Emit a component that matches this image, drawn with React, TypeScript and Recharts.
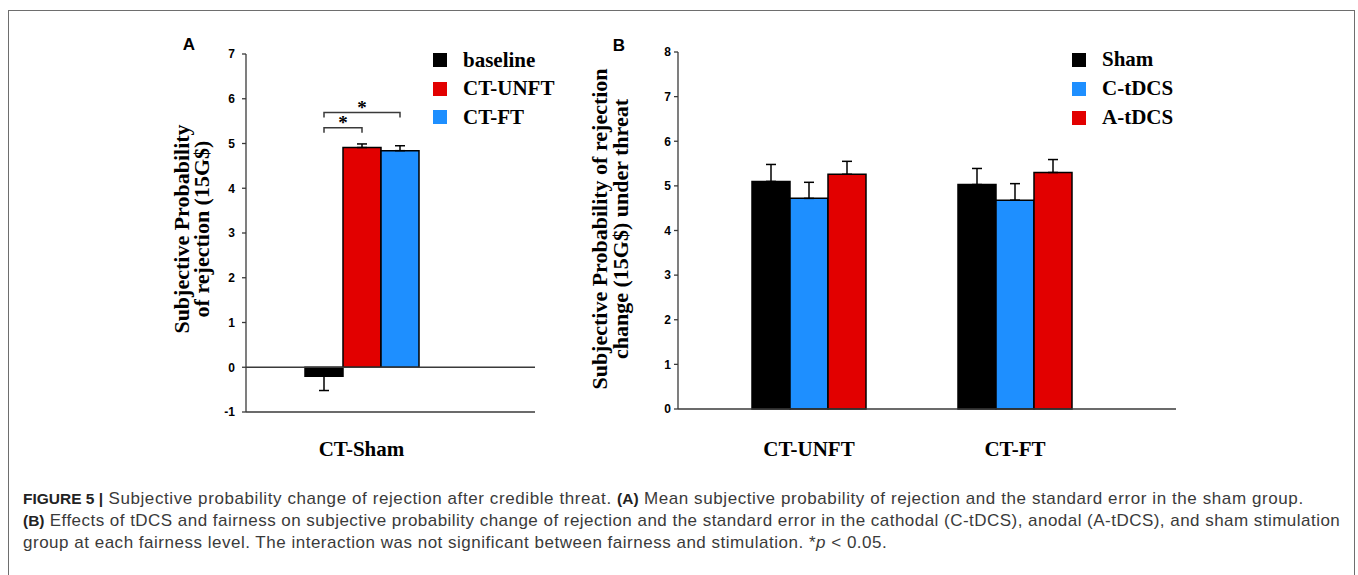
import React from 'react';
import { BarChart, Bar, XAxis, YAxis, ErrorBar, ReferenceLine, LabelList } from 'recharts';

// ---------- Panel A data ----------
const categoriesA = ['CT-Sham'];
const seriesA = ['baseline', 'CT-UNFT', 'CT-FT'];
const colorsA = ['#000000', '#E20000', '#1E8FFF'];
const valuesA = [-0.2, 4.91, 4.84];
const errLowA = [0.32, 0, 0];
const errHighA = [0, 0.08, 0.11];
const ticksA = [-1, 0, 1, 2, 3, 4, 5, 6, 7];
const sigPairsA = [[0, 1], [0, 2]];
const sigLevelsA = [5.35, 5.69];

// ---------- Panel B data ----------
const categoriesB = ['CT-UNFT', 'CT-FT'];
const seriesB = ['Sham', 'C-tDCS', 'A-tDCS'];
const colorsB = ['#000000', '#1E8FFF', '#E20000'];
const valuesB = [
  [5.1, 5.03],
  [4.72, 4.68],
  [5.26, 5.3],
];
const errB = [
  [0.38, 0.36],
  [0.36, 0.37],
  [0.29, 0.29],
];
const ticksB = [0, 1, 2, 3, 4, 5, 6, 7, 8];

const dataA = categoriesA.map((name) => {
  const row: any = { name };
  seriesA.forEach((_, i) => {
    row['s' + i] = valuesA[i];
    row['e' + i] = [errLowA[i], errHighA[i]];
  });
  return row;
});

const dataB = categoriesB.map((name, c) => {
  const row: any = { name };
  seriesB.forEach((_, i) => {
    row['s' + i] = valuesB[i][c];
    row['e' + i] = [0, errB[i][c]];
  });
  return row;
});

const SERIF = '"Liberation Serif", "Times New Roman", serif';
const SANS = '"Liberation Sans", Arial, sans-serif';
const AXIS = '#3a3a3a';
const FRAME = '#6e6e6e';

function SigBrackets(props: any) {
  const vb = props.viewBox || {};
  const x = Number(props.x ?? vb.x);
  const y = Number(props.y ?? vb.y);
  const width = Number(props.width ?? vb.width);
  const height = Number(props.height ?? vb.height);
  if (!isFinite(x) || !isFinite(height) || height === 0) return null;
  const ppu = height / valuesA[1];
  const zeroY = y + height;
  const yFor = (v: number) => zeroY - v * ppu;
  const centers = [x - width / 2, x + width / 2, x + width * 1.5];
  return (
    <g>
      {sigPairsA.map(([a, b], i) => {
        const yy = yFor(sigLevelsA[i]);
        const x1 = centers[a];
        const x2 = centers[b];
        return (
          <g key={i}>
            <path
              d={`M${x1},${yy + 5}V${yy}H${x2}V${yy + 5}`}
              fill="none"
              stroke={AXIS}
              strokeWidth={1.5}
            />
            <text
              x={(x1 + x2) / 2}
              y={yy + 1}
              textAnchor="middle"
              fontFamily={SERIF}
              fontWeight="bold"
              fontSize={19}
              fill="#000"
            >
              *
            </text>
          </g>
        );
      })}
    </g>
  );
}

function LegendBox({ names, colors, left, top, gap }: any) {
  return (
    <div style={{ position: 'absolute', left, top }}>
      {names.map((n: string, i: number) => (
        <div
          key={n}
          style={{ display: 'flex', alignItems: 'center', height: gap }}
        >
          <div style={{ width: 14, height: 14, background: colors[i], marginRight: 16 }} />
          <span
            style={{
              fontFamily: SERIF,
              fontWeight: 'bold',
              fontSize: 21,
              color: '#000',
              lineHeight: 1,
              whiteSpace: 'nowrap',
            }}
          >
            {n}
          </span>
        </div>
      ))}
    </div>
  );
}

const yTick = { fill: '#000', fontSize: 12, fontWeight: 'bold', fontFamily: SANS } as any;
const xTick = { fill: '#000', fontSize: 21, fontWeight: 'bold', fontFamily: SERIF } as any;
const boldCap = { fontWeight: 'bold', fontSize: 15.5, letterSpacing: 0, color: '#222' } as any;

export default function App() {
  return (
    <div
      style={{
        position: 'absolute',
        left: 0,
        top: 0,
        width: 1358,
        height: 575,
        overflow: 'hidden',
        background: '#fff',
      }}
    >
      {/* frame */}
      <div
        style={{
          position: 'absolute',
          left: 8,
          top: 10,
          width: 1347,
          height: 620,
          boxSizing: 'border-box',
          border: `1px solid ${FRAME}`,
        }}
      />

      {/* Panel A chart */}
      <div style={{ position: 'absolute', left: 0, top: 0 }}>
        <BarChart
          width={570}
          height={480}
          data={dataA}
          margin={{ top: 54, right: 35, bottom: 38, left: 0 }}
          barGap={0}
          barSize={38}
        >
          <XAxis
            dataKey="name"
            height={30}
            padding={{ left: 0, right: 58 }}
            axisLine={{ stroke: AXIS, strokeWidth: 1.3 }}
            tickLine={false}
            tickSize={0}
            tickMargin={29}
            tick={xTick}
          />
          <YAxis
            type="number"
            domain={[-1, 7]}
            ticks={ticksA}
            interval={0}
            width={246}
            axisLine={{ stroke: AXIS, strokeWidth: 1.3 }}
            tickLine={{ stroke: AXIS, strokeWidth: 1.3 }}
            tickSize={4}
            tickMargin={7}
            tick={yTick}
          />
          <ReferenceLine y={0} stroke={AXIS} strokeWidth={1.3} />
          {seriesA.map((s, i) => (
            <Bar
              key={s}
              dataKey={'s' + i}
              name={s}
              fill={colorsA[i]}
              stroke="#000"
              strokeWidth={1.5}
              isAnimationActive={false}
            >
              <ErrorBar dataKey={'e' + i} width={5} stroke="#000" strokeWidth={1.5} direction="y" />
              {i === 1 ? <LabelList dataKey={'s' + i} content={SigBrackets} /> : null}
            </Bar>
          ))}
        </BarChart>
      </div>

      {/* Panel B chart */}
      <div style={{ position: 'absolute', left: 560, top: 0 }}>
        <BarChart
          width={798}
          height={480}
          data={dataB}
          margin={{ top: 52, right: 182, bottom: 41, left: 0 }}
          barGap={0}
          barSize={38}
        >
          <XAxis
            dataKey="name"
            height={30}
            padding={{ left: 28, right: 58 }}
            axisLine={{ stroke: AXIS, strokeWidth: 1.3 }}
            tickLine={false}
            tickSize={0}
            tickMargin={32}
            tick={xTick}
          />
          <YAxis
            type="number"
            domain={[0, 8]}
            ticks={ticksB}
            interval={0}
            width={118}
            axisLine={{ stroke: AXIS, strokeWidth: 1.3 }}
            tickLine={{ stroke: AXIS, strokeWidth: 1.3 }}
            tickSize={4}
            tickMargin={3}
            tick={yTick}
          />
          {seriesB.map((s, i) => (
            <Bar
              key={s}
              dataKey={'s' + i}
              name={s}
              fill={colorsB[i]}
              stroke="#000"
              strokeWidth={1.5}
              isAnimationActive={false}
            >
              <ErrorBar dataKey={'e' + i} width={5} stroke="#000" strokeWidth={1.5} direction="y" />
            </Bar>
          ))}
        </BarChart>
      </div>

      {/* Text overlay: panel letters and y-axis titles */}
      <svg
        width={1358}
        height={480}
        style={{ position: 'absolute', left: 0, top: 0, pointerEvents: 'none' }}
      >
        <text x={189} y={50} textAnchor="middle" fontFamily={SANS} fontWeight="bold" fontSize={17} fill="#000">
          A
        </text>
        <text x={619} y={51} textAnchor="middle" fontFamily={SANS} fontWeight="bold" fontSize={17} fill="#000">
          B
        </text>
        <g fontFamily={SERIF} fontWeight="bold" fontSize={22} fill="#000" textAnchor="middle">
          <text transform="translate(188.5,229) rotate(-90)">Subjective Probability</text>
          <text transform="translate(208.5,229) rotate(-90)">of rejection (15G$)</text>
          <text transform="translate(607,229) rotate(-90)">Subjective Probability of rejection</text>
          <text transform="translate(628,229) rotate(-90)">change (15G$) under threat</text>
        </g>
      </svg>

      <LegendBox names={seriesA} colors={colorsA} left={433} top={46} gap={28.5} />
      <LegendBox names={seriesB} colors={colorsB} left={1072} top={45} gap={29} />

      {/* caption */}
      <div
        style={{
          position: 'absolute',
          left: 23,
          top: 488,
          fontFamily: SANS,
          fontSize: 17,
          lineHeight: '22px',
          color: '#3a3a3a',
          whiteSpace: 'nowrap',
        }}
      >
        <div style={{ letterSpacing: '0.59px' }}>
          <span style={boldCap}>FIGURE 5 |</span> Subjective probability change of rejection after credible threat.{' '}
          <span style={boldCap}>(A)</span> Mean subjective probability of rejection and the standard error in the sham
          group.
        </div>
        <div style={{ letterSpacing: '0.47px' }}>
          <span style={boldCap}>(B)</span> Effects of tDCS and fairness on subjective probability change of rejection
          and the standard error in the cathodal (C-tDCS), anodal (A-tDCS), and sham stimulation
        </div>
        <div style={{ letterSpacing: '0.51px' }}>
          group at each fairness level. The interaction was not significant between fairness and stimulation. *
          <i>p</i> &lt; 0.05.
        </div>
      </div>
    </div>
  );
}
